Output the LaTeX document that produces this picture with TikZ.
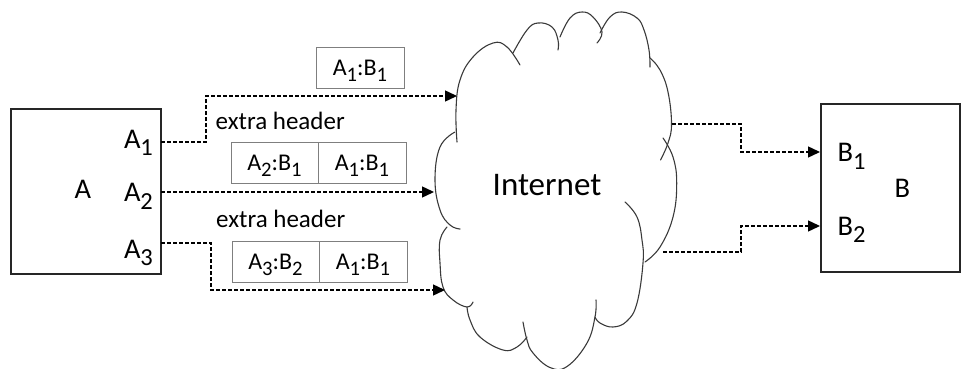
\documentclass[tikz,border=0pt]{standalone}
\usepackage{fontspec}
\setmainfont{Carlito}
\usepackage{graphicx}
\usetikzlibrary{arrows.meta,calc}
\newcommand{\sbs}[1]{\raisebox{-0.26em}{\scalebox{0.86}{#1}}}
\definecolor{cloudc}{HTML}{3A3A3A}
\definecolor{cellc}{HTML}{7F7F7F}
\definecolor{boxc}{HTML}{262626}
\begin{document}
\begin{tikzpicture}[x=1pt,y=-1pt,
  bigbox/.style={draw=boxc, line width=1.7pt, inner sep=0pt, outer sep=0pt},
  lbl/.style={font=\fontsize{28.5}{30}\selectfont, anchor=base west, inner sep=0pt},
  hdr/.style={font=\fontsize{25}{28}\selectfont, anchor=base west, inner sep=0pt},
  cell/.style={draw=cellc, line width=0.9pt, minimum height=41pt, inner sep=0pt, outer sep=0pt,
    text height=15pt, text depth=0pt, font=\fontsize{24}{26}\selectfont},
  flow/.style={draw=black, line width=1.4pt, dash pattern=on 4pt off 2pt,
    -{Triangle[length=12pt,width=11pt]}},
  bump/.style={draw=cloudc, line width=1.1pt, line cap=round}
]
\useasboundingbox (0,0) rectangle (961,369);

% end systems
\node[bigbox, minimum width=150pt, minimum height=165pt] (boxA) at (86,191.5) {};
\node[bigbox, minimum width=139pt, minimum height=168pt] (boxB) at (890.5,188) {};
\node[lbl] (lA) at (74.5,198) {A};
\node[lbl] (A1) at (123.8,148.3) {A\sbs{1}};
\node[lbl] (A2) at (123.8,201.7) {A\sbs{2}};
\node[lbl] (A3) at (123.8,258.3) {A\sbs{3}};
\node[lbl] (lB) at (894.3,197.3) {B};
\node[lbl] (B1) at (837.3,161.7) {B\sbs{1}};
\node[lbl] (B2) at (837.3,235) {B\sbs{2}};

% cloud
\draw[bump] plot[smooth, tension=0.7] coordinates {(457,142) (456,110) (460,80) (473,57) (493,43) (507,47) (520,65)};
\draw[bump] plot[smooth, tension=0.7] coordinates {(513,53) (527,30) (538,23) (552,27) (558,40) (558,50)};
\draw[bump] plot[smooth, tension=0.7] coordinates {(560,37) (570,18) (582,12) (593,17) (602,32) (597,43)};
\draw[bump] plot[smooth, tension=0.7] coordinates {(600,33) (610,17) (622,12) (637,18) (644,30) (649,50) (650,67)};
\draw[bump] plot[smooth, tension=0.7] coordinates {(650,58) (660,70) (668,92) (671.5,124) (668,143) (660.5,160)};
\draw[bump] plot[smooth, tension=0.7] coordinates {(663,138) (673,157) (676.7,183) (673,217) (660,247) (645,262)};
\draw[bump] plot[smooth, tension=0.7] coordinates {(625,202) (637,217) (642,240) (643,263) (637,303) (627,321) (613,327) (600,323) (595,317)};
\draw[bump] plot[smooth, tension=0.7] coordinates {(596,300) (595,317) (587,343) (567,366.5) (550,367.5) (533,353) (527,340) (523,322)};
\draw[bump] plot[smooth, tension=0.7] coordinates {(527,337) (517,347) (503,350) (480,337) (470,320) (467,307)};
\draw[bump] plot[smooth, tension=0.7] coordinates {(447,227) (440,240) (440,263) (443,287) (453,300) (467,307) (473,302)};
\draw[bump] plot[smooth, tension=0.7] coordinates {(455,132) (440,147) (435,180) (440,210) (450,225) (460,229)};
\node[font=\fontsize{33}{36}\selectfont, anchor=base, inner sep=0pt] (net) at (547,195) {Internet};

% headers
\node[cell, minimum width=88pt] (h1) at (360,68) {A\sbs{1}:B\sbs{1}};
\node[cell, minimum width=87pt] (h2a) at (274.5,162.5) {A\sbs{2}:B\sbs{1}};
\node[cell, minimum width=88pt, anchor=west] (h2b) at (h2a.east) {A\sbs{1}:B\sbs{1}};
\node[cell, minimum width=87pt] (h3a) at (275.5,261.5) {A\sbs{3}:B\sbs{2}};
\node[cell, minimum width=88pt, anchor=west] (h3b) at (h3a.east) {A\sbs{1}:B\sbs{1}};
\node[hdr] (x1) at (215.5,129.3) {extra header};
\node[hdr] (x2) at (216,227.7) {extra header};

% connection points
\coordinate (pA1) at (161,142);
\coordinate (pA2) at (161,192);
\coordinate (pA3) at (161,243);
\coordinate (in1) at (457,96);
\coordinate (in2) at (434,192);
\coordinate (in3) at (445,290);
\coordinate (out1) at (672,124);
\coordinate (out2) at (663,252);
\coordinate (pB1) at (820,152);
\coordinate (pB2) at (820,226);

% connectors
\draw[flow] (pA1) -- ++(45,0) |- (in1);
\draw[flow] (pA2) -- (in2);
\draw[flow] (pA3) -- ++(50,0) |- (in3);
\draw[flow] (out1) -- ++(69,0) |- (pB1);
\draw[flow] (out2) -- ++(78,0) |- (pB2);
\end{tikzpicture}
\end{document}
